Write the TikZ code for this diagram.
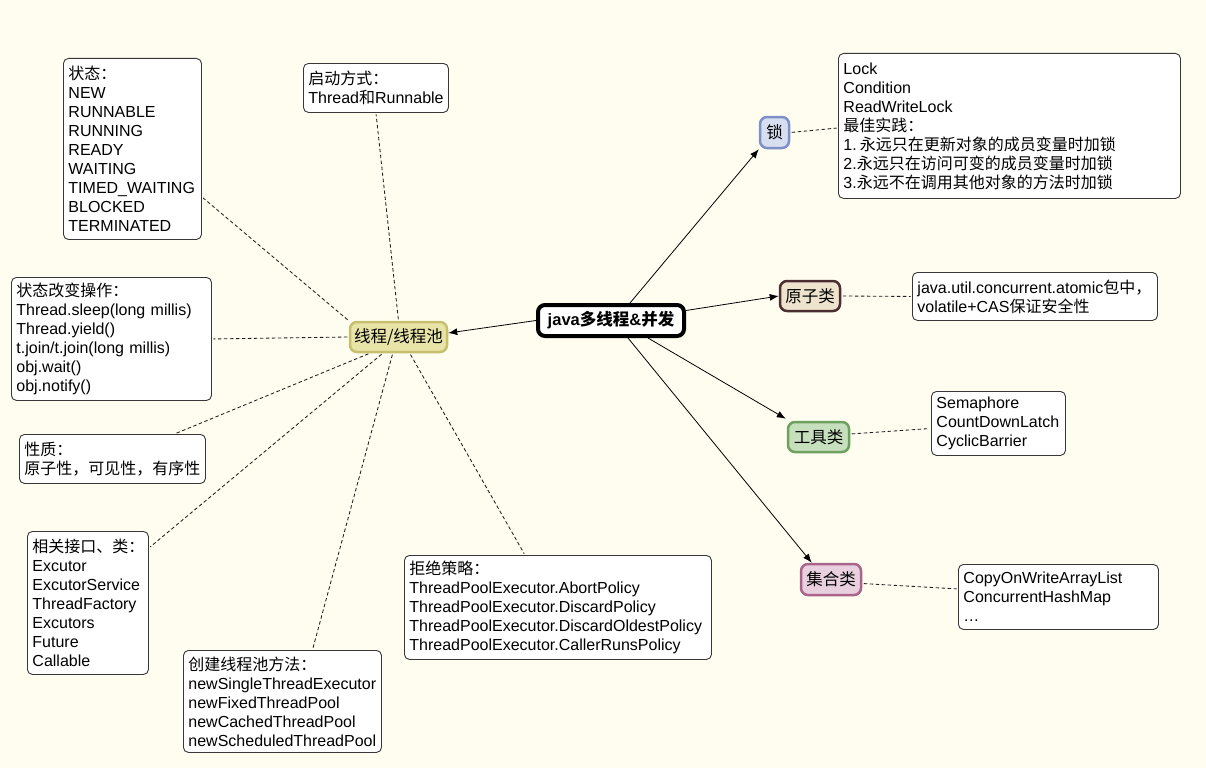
\documentclass[tikz,border=0pt]{standalone}
\usepackage{fontspec}
\setmainfont{Liberation Sans}
\newfontfamily\cjk{Noto Sans CJK SC}
\usetikzlibrary{arrows.meta}
\newcommand\zh[1]{{\cjk #1}}
\definecolor{bgc}{RGB}{255,253,240}
\definecolor{cgray}{RGB}{55,55,55}
\definecolor{dgray}{RGB}{30,30,30}
\definecolor{lockfill}{RGB}{214,222,240}
\definecolor{lockdraw}{RGB}{125,145,200}
\definecolor{atomfill}{RGB}{238,228,206}
\definecolor{atomdraw}{RGB}{75,45,50}
\definecolor{toolfill}{RGB}{198,224,190}
\definecolor{tooldraw}{RGB}{110,160,95}
\definecolor{collfill}{RGB}{232,208,222}
\definecolor{colldraw}{RGB}{170,100,140}
\definecolor{poolfill}{RGB}{232,228,168}
\definecolor{pooldraw}{RGB}{198,192,110}
\begin{document}
\begin{tikzpicture}[x=1pt,y=-1pt,
  font=\fontsize{16}{19}\selectfont,
  callout/.style={draw=cgray, fill=white, line width=0.9pt, rounded corners=5pt,
    anchor=north west, inner xsep=5pt, inner ysep=1pt, align=left},
  topic/.style={line width=2.5pt, rounded corners=7pt, inner sep=0pt, font=\fontsize{16.5}{19}\selectfont},
  mainbox/.style={draw=black, fill=white, line width=4pt, rounded corners=7pt,
    inner sep=0pt, minimum width=146pt, minimum height=31pt, font=\fontsize{16.5}{19}\selectfont\bfseries},
  arr/.style={draw=black, line width=0.8pt, -{Latex[length=9pt,width=7pt]}},
  dline/.style={draw=dgray, line width=0.85pt, dash pattern=on 3.5pt off 2.5pt,
    shorten <=1.5pt, shorten >=1.5pt}
]
\useasboundingbox (0,0) rectangle (1206,768);
\fill[bgc] (0,0) rectangle (1206,768);

% central and topic nodes
\node[mainbox] (main) at (611,320.5) {java\zh{多线程}\&\zh{并发}};
\node[topic, draw=pooldraw, fill=poolfill, minimum width=97pt, minimum height=30pt] (pool) at (398.5,337) {\zh{线程/线程池}};
\node[topic, draw=lockdraw, fill=lockfill, minimum width=29pt, minimum height=31pt] (lockn) at (774.5,132.5) {\zh{锁}};
\node[topic, draw=atomdraw, fill=atomfill, minimum width=60pt, minimum height=30pt] (atomn) at (810,296) {\zh{原子类}};
\node[topic, draw=tooldraw, fill=toolfill, minimum width=61pt, minimum height=30pt] (tooln) at (818.5,437) {\zh{工具类}};
\node[topic, draw=colldraw, fill=collfill, minimum width=60pt, minimum height=31pt] (colln) at (831,579.5) {\zh{集合类}};

% callouts
\node[callout, text width=128pt, minimum height=181pt] (state) at (63,58)
  {\zh{状态：}\\NEW\\RUNNABLE\\RUNNING\\READY\\WAITING\\TIMED\_WAITING\\BLOCKED\\TERMINATED};
\node[callout, text width=135pt, minimum height=49pt] (start) at (303,63)
  {\zh{启动方式：}\\Thread\zh{和}Runnable};
\node[callout, text width=190pt, minimum height=123pt] (ops) at (11,277)
  {\zh{状态改变操作：}\\Thread.sleep(long millis)\\Thread.yield()\\t.join/t.join(long millis)\\obj.wait()\\obj.notify()};
\node[callout, text width=176pt, minimum height=49pt] (nature) at (19,434)
  {\zh{性质：}\\\zh{原子性，可见性，有序性}};
\node[callout, text width=111pt, minimum height=143pt] (iface) at (27,531)
  {\zh{相关接口、类：}\\Excutor\\ExcutorService\\ThreadFactory\\Excutors\\Future\\Callable};
\node[callout, text width=188pt, minimum height=102pt] (create) at (183,650)
  {\zh{创建线程池方法：}\\newSingleThreadExecutor\\newFixedThreadPool\\newCachedThreadPool\\newScheduledThreadPool};
\node[callout, text width=297pt, minimum height=104pt] (reject) at (404,555)
  {\zh{拒绝策略：}\\ThreadPoolExecutor.AbortPolicy\\ThreadPoolExecutor.DiscardPolicy\\ThreadPoolExecutor.DiscardOldestPolicy\\ThreadPoolExecutor.CallerRunsPolicy};
\node[callout, text width=332pt, minimum height=145pt] (lockbox) at (838,53)
  {Lock\\Condition\\ReadWriteLock\\\zh{最佳实践：}\\1.\hspace{3pt}\zh{永远只在更新对象的成员变量时加锁}\\2.\zh{永远只在访问可变的成员变量时加锁}\\3.\zh{永远不在调用其他对象的方法时加锁}};
\node[callout, text width=235pt, minimum height=48pt] (atombox) at (912,272)
  {java.util.concurrent.atomic\zh{包中，}\\volatile+CAS\zh{保证安全性}};
\node[callout, text width=124pt, minimum height=64pt] (toolbox) at (931,391)
  {Semaphore\\CountDownLatch\\CyclicBarrier};
\node[callout, text width=190pt, minimum height=65pt] (collbox) at (958,564)
  {CopyOnWriteArrayList\\ConcurrentHashMap\\…};

% solid arrows from the central node
\draw[arr] (main.west) -- ([yshift=4pt]pool.east);
\draw[arr] ([xshift=19pt]main.north) -- (lockn.south west);
\draw[arr] ([yshift=10pt]main.east) -- (atomn.west);
\draw[arr] ([xshift=37pt]main.south) -- ([xshift=-1pt,yshift=2pt]tooln.north west);
\draw[arr] ([xshift=17pt]main.south) -- ([xshift=12pt]colln.north west);

% dashed lines from the pool node
\draw[dline] (pool.north west) -- ([yshift=-48pt]state.east);
\draw[dline] (pool.north) -- (start.south);
\draw[dline] (pool.west) -- (ops.east);
\draw[dline] ([xshift=21pt]pool.south west) -- ([xshift=62pt]nature.north);
\draw[dline] ([xshift=34pt]pool.south west) -- ([yshift=-17pt]iface.north east);
\draw[dline] ([xshift=44pt]pool.south west) -- ([xshift=30pt]create.north);
\draw[dline] ([xshift=61pt]pool.south west) -- ([xshift=-33pt]reject.north);

% dashed lines to the detail boxes
\draw[dline] (lockn.east) -- ([yshift=-2pt]lockbox.west);
\draw[dline] (atomn.east) -- (atombox.west);
\draw[dline] ([yshift=3pt]tooln.east) -- ([yshift=-5pt]toolbox.west);
\draw[dline] ([yshift=-4pt]colln.east) -- ([yshift=8pt]collbox.west);
\end{tikzpicture}
\end{document}
